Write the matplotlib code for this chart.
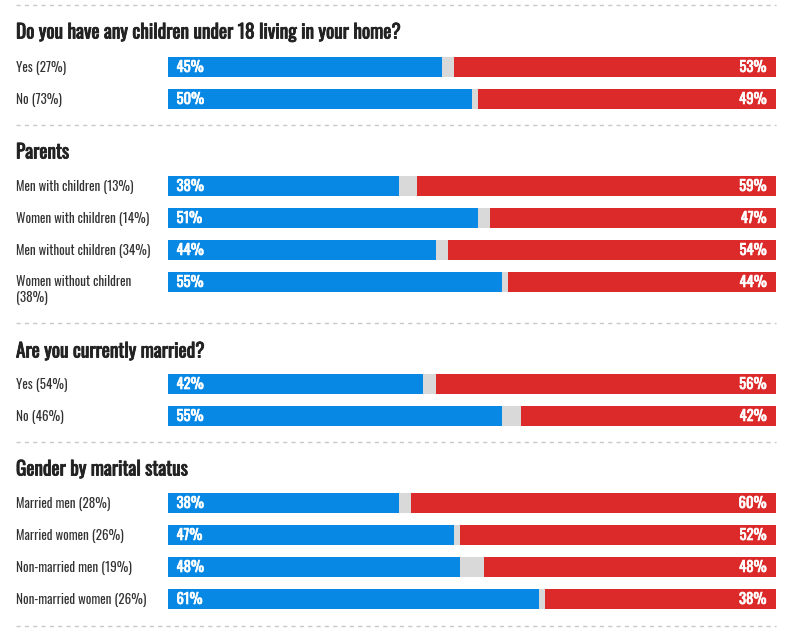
import matplotlib
matplotlib.use("Agg")
import matplotlib.pyplot as plt
import matplotlib.patheffects as pe
from matplotlib import font_manager as fm

names = {f.name for f in fm.fontManager.ttflist}
FONT = "DejaVu Sans"
for cand in ["Oswald", "Barlow Condensed", "Archivo Narrow", "DejaVu Sans"]:
    if cand in names:
        FONT = cand
        break
FAM = [FONT, "DejaVu Sans"]

# ---- data ----
sections = ["Do you have any children under 18 living in your home?",
            "Parents",
            "Are you currently married?",
            "Gender by marital status"]
labels_1 = ["Yes (27%)", "No (73%)"]
blue_1 = [45, 50]
red_1 = [53, 49]
labels_2 = ["Men with children (13%)", "Women with children (14%)",
            "Men without children (34%)", "Women without children\n(38%)"]
blue_2 = [38, 51, 44, 55]
red_2 = [59, 47, 54, 44]
labels_3 = ["Yes (54%)", "No (46%)"]
blue_3 = [42, 55]
red_3 = [56, 42]
labels_4 = ["Married men (28%)", "Married women (26%)",
            "Non-married men (19%)", "Non-married women (26%)"]
blue_4 = [38, 47, 48, 61]
red_4 = [60, 52, 48, 38]

groups = [(labels_1, blue_1, red_1), (labels_2, blue_2, red_2),
          (labels_3, blue_3, red_3), (labels_4, blue_4, red_4)]

BLUE = "#0788E5"
RED = "#DC2A2A"
GRAY = "#D9D9D9"
TITLE_C = "#222222"

W, H = 807, 628
fig = plt.figure(figsize=(W / 100, H / 100), dpi=100)
ax = fig.add_axes([0, 0, 1, 1])
px = 608 / 100.0  # pixels per percent
x0 = 168
ax.set_xlim(-x0 / px, (W - x0) / px)
ax.set_ylim(H, 0)
ax.axis("off")

def xp(pix):
    return (pix - x0) / px

left_line, right_line = xp(16), 100

title_y = [32.5, 152.5, 351.5, 469.5]
row_y = [[67, 99], [186, 218, 250, 282], [384, 416], [503, 535, 567, 599]]
dash_y = [5, 125, 323, 442, 626]
bar_h = 20

title_fx = [pe.withStroke(linewidth=0.6, foreground=TITLE_C)]
num_fx = [pe.withStroke(linewidth=0.45, foreground="white")]

for y in dash_y:
    ax.plot([left_line, right_line], [y, y], color="#C8C8C8", lw=1,
            linestyle=(0, (3, 3)))

for (title, ty, ys, (labs, bl, rd)) in zip(sections, title_y, row_y, groups):
    ax.text(xp(16), ty, title, fontsize=13.9, fontweight="bold",
            family=FAM, color=TITLE_C, va="center", ha="left",
            path_effects=title_fx)
    for y, lab, b, r in zip(ys, labs, bl, rd):
        ax.barh(y, 100, left=0, height=bar_h, color=GRAY, lw=0)
        ax.barh(y, b, left=0, height=bar_h, color=BLUE, lw=0)
        ax.barh(y, r, left=100 - r, height=bar_h, color=RED, lw=0)
        ax.text(xp(176.5), y + 0.5, f"{b}%", color="white", fontsize=10.6,
                fontweight="bold", family=FAM, va="center", ha="left",
                path_effects=num_fx)
        ax.text(100 - 9.5 / px, y + 0.5, f"{r}%", color="white", fontsize=10.6,
                fontweight="bold", family=FAM, va="center", ha="right",
                path_effects=num_fx)
        if "\n" in lab:
            ax.text(xp(16), y - 7.5, lab, color="#333333", fontsize=9.4,
                    family=FAM, va="top", ha="left", linespacing=1.3)
        else:
            ax.text(xp(16), y + 0.5, lab, color="#333333", fontsize=9.4,
                    family=FAM, va="center", ha="left")

fig.savefig("out.png", dpi=100)
